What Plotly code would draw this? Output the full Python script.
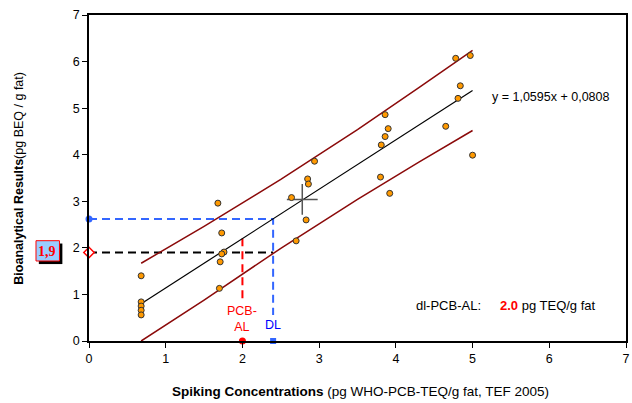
import plotly.graph_objects as go

# ---- data ----
spike_x = [0.68, 0.68, 0.68, 0.68, 0.68,
           1.68, 1.73, 1.76, 1.73, 1.71, 1.70,
           2.64, 2.70, 2.94, 2.85, 2.86, 2.83,
           3.80, 3.92, 3.81, 3.86, 3.86, 3.90,
           4.78, 4.97, 4.84, 4.81, 4.65, 5.00]
bio_y = [1.40, 0.84, 0.75, 0.66, 0.56,
         2.96, 2.32, 1.91, 1.87, 1.70, 1.13,
         3.08, 2.15, 3.86, 3.48, 3.37, 2.60,
         3.52, 3.17, 4.21, 4.39, 4.86, 4.56,
         6.07, 6.13, 5.48, 5.21, 4.61, 3.99]

fit_x = [0.68, 5.0]
fit_y = [0.801, 5.378]

upper_x = [0.68, 1.5, 2.5, 3.5, 4.3, 5.0]
upper_y = [1.67, 2.46, 3.47, 4.54, 5.44, 6.24]
lower_x = [0.68, 1.5, 2.5, 3.5, 4.3, 5.0]
lower_y = [0.0, 0.88, 1.99, 3.04, 3.84, 4.52]

centroid = (2.78, 3.04)
dl_x, dl_y, dl_bottom = 2.4, 2.62, 0.56
al_x, al_y, al_bottom = 2.0, 2.20, 0.92
cc_y = 1.9

eq_text = "y = 1,0595x + 0,0808"
al_value = "2.0"

fig = go.Figure()

# dashed helper lines
fig.add_trace(go.Scatter(x=[0, dl_x, dl_x], y=[dl_y, dl_y, dl_bottom], mode="lines",
                         line=dict(color="#3366FF", width=2, dash="8px,5px"),
                         hoverinfo="skip", cliponaxis=False))
fig.add_trace(go.Scatter(x=[0, dl_x], y=[cc_y, cc_y], mode="lines",
                         line=dict(color="black", width=2, dash="8px,5px"),
                         hoverinfo="skip", cliponaxis=False))
fig.add_trace(go.Scatter(x=[al_x, al_x], y=[al_bottom, al_y], mode="lines",
                         line=dict(color="#FF0000", width=2, dash="8px,5px"),
                         hoverinfo="skip", cliponaxis=False))

# prediction band
fig.add_trace(go.Scatter(x=upper_x, y=upper_y, mode="lines",
                         line=dict(color="#8B0A0A", width=1.5), hoverinfo="skip"))
fig.add_trace(go.Scatter(x=lower_x, y=lower_y, mode="lines",
                         line=dict(color="#8B0A0A", width=1.5), hoverinfo="skip"))
# regression
fig.add_trace(go.Scatter(x=fit_x, y=fit_y, mode="lines",
                         line=dict(color="black", width=1.2), hoverinfo="skip"))

# centroid cross
fig.add_trace(go.Scatter(x=[centroid[0]], y=[centroid[1]], mode="markers",
                         marker=dict(symbol="cross-thin", size=22,
                                     line=dict(color="#555555", width=1.5)),
                         hoverinfo="skip"))

# data points
fig.add_trace(go.Scatter(x=spike_x, y=bio_y, mode="markers",
                         marker=dict(color="#FF9900", size=6,
                                     line=dict(color="#333333", width=1))))

# axis markers
fig.add_trace(go.Scatter(x=[al_x + 0.03], y=[-0.02], mode="markers",
                         marker=dict(symbol="square", color="black", size=7),
                         cliponaxis=False, hoverinfo="skip"))
fig.add_trace(go.Scatter(x=[al_x], y=[0], mode="markers",
                         marker=dict(symbol="circle", color="#FF0000", size=7),
                         cliponaxis=False, hoverinfo="skip"))
fig.add_trace(go.Scatter(x=[dl_x + 0.03], y=[-0.02], mode="markers",
                         marker=dict(symbol="square", color="black", size=7),
                         cliponaxis=False, hoverinfo="skip"))
fig.add_trace(go.Scatter(x=[dl_x], y=[0], mode="markers",
                         marker=dict(symbol="square", color="#3366FF", size=6),
                         cliponaxis=False, hoverinfo="skip"))
fig.add_trace(go.Scatter(x=[0], y=[dl_y], mode="markers",
                         marker=dict(symbol="circle", color="#3366FF", size=7),
                         cliponaxis=False, hoverinfo="skip"))
fig.add_trace(go.Scatter(x=[0], y=[cc_y], mode="markers",
                         marker=dict(symbol="diamond", color="white", size=8,
                                     line=dict(color="#FF0000", width=1.5)),
                         cliponaxis=False, hoverinfo="skip"))

font = "Liberation Sans, Arial, sans-serif"

annotations = [
    dict(x=al_x, y=0.48, xref="x", yref="y", text="PCB-<br>AL", showarrow=False,
         font=dict(color="#FF0000", size=12.5, family=font), align="center"),
    dict(x=dl_x, y=0.34, xref="x", yref="y", text="DL", showarrow=False,
         font=dict(color="#0000FF", size=12.5, family=font)),
    dict(x=0.606, y=0.110, xref="paper", yref="paper", xanchor="left", yanchor="middle",
         text="dl-PCB-AL:", showarrow=False, font=dict(color="black", size=13, family=font)),
    dict(x=0.761, y=0.110, xref="paper", yref="paper", xanchor="left", yanchor="middle",
         text="<b><span style='color:#FF0000'>" + al_value + "</span></b> pg TEQ/g fat",
         showarrow=False, font=dict(color="black", size=13, family=font)),
    dict(x=0.746, y=0.749, xref="paper", yref="paper", xanchor="left", yanchor="middle",
         text=eq_text, showarrow=False, font=dict(color="black", size=12.5, family=font)),
    dict(x=-0.131, y=0.5, xref="paper", yref="paper", xanchor="center", yanchor="middle",
         textangle=-90, showarrow=False,
         text="<b>Bioanalytical Results</b>(pg BEQ / g fat)",
         font=dict(color="black", size=12.5, family=font)),
    dict(x=0.506, y=-0.156, xref="paper", yref="paper", xanchor="center", yanchor="middle",
         showarrow=False,
         text="<b>Spiking Concentrations</b> (pg WHO-PCB-TEQ/g fat, TEF 2005)",
         font=dict(color="black", size=13.5, family=font)),
    dict(x=-0.0775, y=0.276, xref="paper", yref="paper", xanchor="center", yanchor="middle",
         showarrow=False, text="<b>1,9</b>",
         font=dict(color="#FF0000", size=14, family="Liberation Serif, Times New Roman, serif")),
]

shapes = [
    dict(type="rect", xref="paper", yref="paper", x0=-0.0934, x1=-0.0496, y0=0.236, y1=0.299,
         fillcolor="black", line=dict(width=0), layer="above"),
    dict(type="rect", xref="paper", yref="paper", x0=-0.0987, x1=-0.0550, y0=0.2454, y1=0.3077,
         fillcolor="#99CCFF", line=dict(color="#FF0000", width=1), layer="above"),
]

axis_common = dict(showline=True, linecolor="black", linewidth=1.5, mirror=True,
                   showgrid=False, zeroline=False, ticks="outside", ticklen=5,
                   tickcolor="black", tickwidth=1,
                   tickfont=dict(family=font, size=12.5, color="black"))

fig.update_layout(
    width=632, height=403,
    margin=dict(l=89, r=2, t=15, b=62),
    paper_bgcolor="white", plot_bgcolor="white",
    showlegend=False,
    xaxis=dict(range=[0, 7], dtick=1, **axis_common),
    yaxis=dict(range=[0, 7], dtick=1, **axis_common),
    annotations=annotations,
    shapes=shapes,
)

fig.write_html("out.html", config={"displayModeBar": False},
               post_script="document.body.style.margin='0';document.body.style.overflow='hidden';")
